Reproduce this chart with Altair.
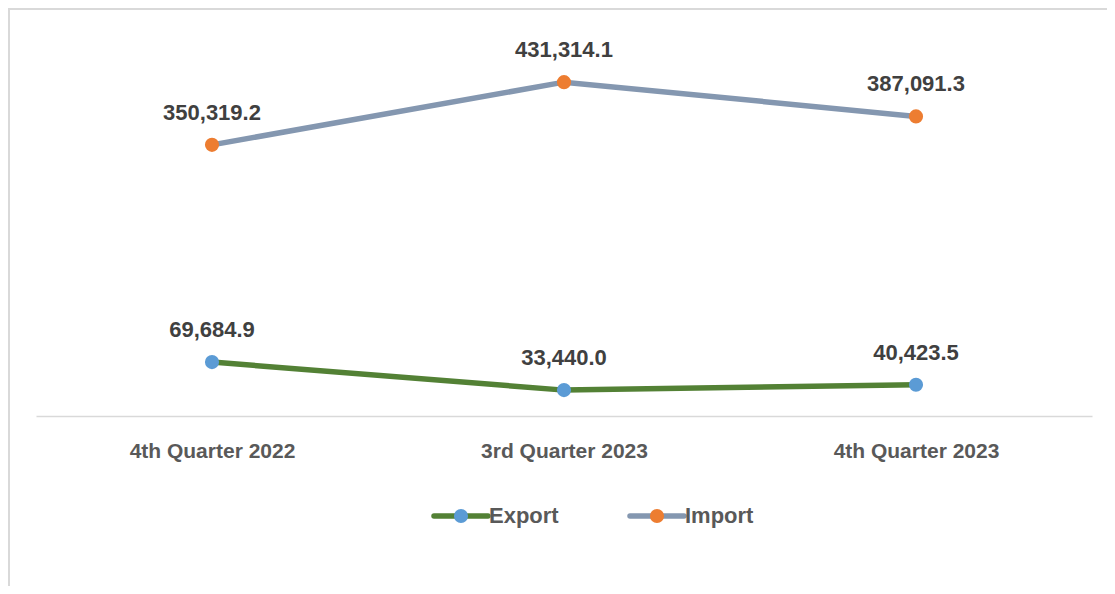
import altair as alt
import pandas as pd

quarters = ["4th Quarter 2022", "3rd Quarter 2023", "4th Quarter 2023"]
export_vals = [69684.9, 33440.0, 40423.5]
import_vals = [350319.2, 431314.1, 387091.3]
series = ["Export", "Import"]
line_colors = ["#538135", "#8497B0"]
point_colors = ["#5B9BD5", "#ED7D31"]

rows = []
for q, e, i in zip(quarters, export_vals, import_vals):
    rows.append({"quarter": q, "series": "Export", "value": e})
    rows.append({"quarter": q, "series": "Import", "value": i})
df = pd.DataFrame(rows)
leg = pd.DataFrame({"series": series})

FONT = "Liberation Sans"

x = alt.X("quarter:N", sort=quarters, title=None,
          scale=alt.Scale(type="point", padding=0.5),
          axis=alt.Axis(labelAngle=0, ticks=False, domainColor="#d9d9d9", domainWidth=1.5,
                        labelFont=FONT, labelFontSize=21, labelFontWeight="bold",
                        labelColor="#595959", labelPadding=24, grid=False))
y = alt.Y("value:Q", scale=alt.Scale(domain=[0, 500000]), axis=None)

base = alt.Chart(df)
lines = base.mark_line(strokeWidth=5.5).encode(
    x=x, y=y,
    color=alt.Color("series:N", scale=alt.Scale(domain=series, range=line_colors), legend=None),
)
points = base.mark_circle(size=200, opacity=1).encode(
    x=x, y=y,
    color=alt.Color("series:N", scale=alt.Scale(domain=series, range=point_colors), legend=None),
)
labels = base.mark_text(font=FONT, fontSize=22, fontWeight="bold", color="#404040",
                        baseline="middle", dy=-32).encode(
    x=x, y=y, text=alt.Text("value:Q", format=",.1f")
)

lx = alt.X("series:N", scale=alt.Scale(type="point", domain=series, range=[425, 621], padding=0), axis=None)
leg_base = alt.Chart(leg)
leg_rules = leg_base.mark_rule(strokeWidth=5.5, strokeCap="round", xOffset=-27, x2Offset=27).encode(
    x=lx, x2=alt.X2("series:N"), y=alt.value(487),
    stroke=alt.Stroke("series:N", scale=alt.Scale(domain=series, range=line_colors), legend=None),
)
leg_pts = leg_base.mark_circle(size=200, opacity=1).encode(
    x=lx, y=alt.value(487),
    fill=alt.Fill("series:N", scale=alt.Scale(domain=series, range=point_colors), legend=None),
)
leg_txt = leg_base.mark_text(font=FONT, fontSize=22, fontWeight="bold", color="#595959",
                             align="left", baseline="middle", dx=28).encode(
    x=lx, y=alt.value(487), text="series:N"
)

frame_data = pd.DataFrame({"k": [0]})
frame_left = alt.Chart(frame_data).mark_rule(color="#d9d9d9", strokeWidth=2).encode(
    x=alt.value(-27), y=alt.value(-21), y2=alt.value(600)
)
frame_top = alt.Chart(frame_data).mark_rule(color="#d9d9d9", strokeWidth=2).encode(
    x=alt.value(-27), x2=alt.value(1100), y=alt.value(-20)
)

main = alt.layer(lines, points, labels).resolve_scale(color="independent")
legend = alt.layer(leg_rules, leg_pts, leg_txt)

chart = alt.layer(main, legend, frame_left, frame_top).resolve_scale(
    x="independent", color="independent"
).properties(
    width=1056, height=387,
    padding={"left": 28, "top": 21, "right": 15, "bottom": 170},
    autosize=alt.AutoSizeParams(type="none"),
).configure_view(stroke=None)

chart.save("out.html", embed_options={"renderer": "svg", "actions": False})
